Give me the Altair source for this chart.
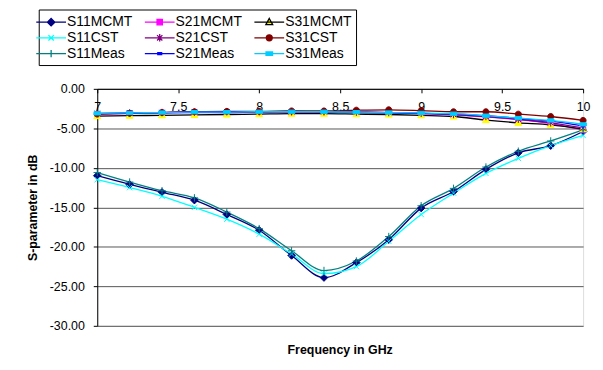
import altair as alt
import pandas as pd

freq = [7.0, 7.2, 7.4, 7.6, 7.8, 8.0, 8.2, 8.4, 8.6, 8.8, 9.0, 9.2, 9.4, 9.6, 9.8, 10.0]

names = ["S11MCMT", "S21MCMT", "S31MCMT",
         "S11CST", "S21CST", "S31CST",
         "S11Meas", "S21Meas", "S31Meas"]

s11_mcmt = [-11.0, -12.1, -13.1, -14.1, -15.9, -17.9, -21.1, -23.9, -22.0, -19.1, -15.1, -13.0, -10.2, -8.1, -7.2, -5.4]
s21_mcmt = [-3.2, -3.1, -3.05, -3.0, -3.0, -2.95, -2.95, -2.95, -3.0, -3.05, -3.15, -3.3, -3.55, -3.9, -4.4, -5.2]
s31_mcmt = [-3.45, -3.4, -3.35, -3.3, -3.25, -3.2, -3.15, -3.15, -3.2, -3.25, -3.35, -3.5, -3.95, -4.3, -4.55, -5.1]
s11_cst = [-11.5, -12.5, -13.6, -15.0, -16.5, -18.4, -20.9, -23.4, -22.5, -19.3, -15.9, -13.2, -10.7, -8.8, -7.2, -5.9]
s21_cst = [-3.1, -3.05, -3.0, -2.95, -2.9, -2.9, -2.9, -2.9, -2.95, -3.0, -3.1, -3.25, -3.5, -3.85, -4.3, -4.95]
s31_cst = [-3.2, -3.1, -3.0, -2.9, -2.85, -2.85, -2.8, -2.8, -2.7, -2.65, -2.75, -2.9, -2.9, -3.2, -3.5, -4.0]
s11_meas = [-10.6, -11.8, -12.9, -13.8, -15.6, -17.7, -20.5, -23.0, -21.8, -18.7, -14.8, -12.6, -9.9, -7.9, -6.6, -5.2]
s21_meas = [-3.15, -3.1, -3.0, -2.95, -2.9, -2.9, -2.85, -2.9, -2.95, -3.0, -3.1, -3.2, -3.4, -3.75, -4.1, -4.7]
s31_meas = [-3.1, -3.05, -3.0, -2.95, -2.95, -2.9, -2.9, -2.9, -2.95, -3.0, -3.05, -3.15, -3.4, -3.7, -4.0, -4.5]

series_values = [s11_mcmt, s21_mcmt, s31_mcmt, s11_cst, s21_cst, s31_cst, s11_meas, s21_meas, s31_meas]

line_colors = ["#000080", "#FF00FF", "#000000", "#00FFFF", "#800080", "#800000", "#008080", "#0000FF", "#00CCFF"]
marker_colors = ["#000080", "#FF00FF", "#FFFF00", "#00FFFF", "#800080", "#800000", "#008080", "#0000FF", "#00CCFF"]

# marker shapes as unit paths; drawn at size 225 -> 7.5 px per unit
marker_paths = [
    "M0,-0.5L0.5,0L0,0.5L-0.5,0Z",
    "M-0.36,-0.36H0.36V0.36H-0.36Z",
    "M0,-0.5L0.46,0.34H-0.46Z",
    "M-0.36,-0.36L0.36,0.36M-0.36,0.36L0.36,-0.36",
    "M-0.36,-0.36L0.36,0.36M-0.36,0.36L0.36,-0.36M0,-0.5V0.5",
    "M-0.4,0A0.4,0.4 0 1,0 0.4,0A0.4,0.4 0 1,0 -0.4,0Z",
    "M-0.5,0H0.5M0,-0.5V0.5",
    "M-0.26,-0.12H0.26V0.12H-0.26Z",
    "M-0.44,-0.22H0.44V0.22H-0.44Z",
]
legend_line = "M-2,0L2,0"
legend_paths = [legend_line + p for p in marker_paths]

# plotted markers use a suffixed key, legend entries use the plain names
ZW = "\u200b"
names_m = [n + ZW for n in names]

rows = []
for i, (name, vals) in enumerate(zip(names, series_values)):
    for f, v in zip(freq, vals):
        rows.append({"freq": f, "db": v, "series": name, "series_m": name + ZW, "k": i})
df = pd.DataFrame(rows)

FONT = "Liberation Sans"
PLOT_W = 490
PLOT_H = 239

x_enc = alt.X(
    "freq:Q",
    scale=alt.Scale(domain=[7, 10], nice=False, zero=False),
    axis=alt.Axis(
        orient="bottom", offset=-PLOT_H, values=[7, 7.5, 8, 8.5, 9, 9.5, 10],
        format="~g", title=None, grid=False, labelFlush=False,
        domainColor="black", tickColor="black", tickSize=4, labelPadding=8,
        labelFont=FONT, labelFontSize=12.5, labelColor="black",
    ),
)
y_enc = alt.Y(
    "db:Q",
    scale=alt.Scale(domain=[-30, 0], nice=False, zero=False),
    axis=alt.Axis(
        values=[-30, -25, -20, -15, -10, -5, 0],
        labelExpr="replace(format(datum.value, '.2f'), '\u2212', '-')",
        grid=True, gridColor="#555555", gridWidth=1,
        domainColor="black", tickColor="black", tickSize=4, labelPadding=9,
        labelFont=FONT, labelFontSize=12.5, labelColor="black",
        title="S-parameter in dB", titleFont=FONT, titleFontSize=12.5,
        titleFontWeight="bold", titleColor="black",
        titleX=-65, titleY=PLOT_H / 2, titleAngle=-90, titleBaseline="middle",
        titleAlign="center",
    ),
)

lines = alt.Chart(df).mark_line(strokeWidth=1.3, interpolate="monotone").encode(
    x=x_enc,
    y=y_enc,
    color=alt.Color("series:N", scale=alt.Scale(domain=names, range=line_colors), legend=None),
    detail="k:N",
)

legend = alt.Legend(
    values=names, orient="none", legendX=-59, legendY=-80, columns=3,
    direction="horizontal", title=None, symbolSize=225, symbolStrokeWidth=1.3,
    labelFont=FONT, labelFontSize=14, labelColor="black", labelOffset=7.5,
    columnPadding=8.5, rowPadding=-2.5, padding=4, labelLimit=0,
    strokeColor="black", fillColor="white",
)

dom = names + names_m
points = alt.Chart(df).mark_point(size=225, filled=True, strokeWidth=1, opacity=1).encode(
    x=x_enc,
    y=y_enc,
    fill=alt.Fill("series_m:N", scale=alt.Scale(domain=dom, range=marker_colors + marker_colors), legend=legend),
    stroke=alt.Stroke("series_m:N", scale=alt.Scale(domain=dom, range=line_colors + marker_colors), legend=legend),
    shape=alt.Shape("series_m:N", scale=alt.Scale(domain=dom, range=legend_paths + marker_paths), legend=legend),
)

chart = alt.layer(lines, points).properties(
    width=PLOT_W,
    height=PLOT_H,
    autosize=alt.AutoSizeParams(type="none"),
    padding={"left": 90, "top": 80, "right": 12, "bottom": 40},
    title=alt.TitleParams(
        "Frequency in GHz", orient="bottom", anchor="middle", frame="group",
        font=FONT, fontSize=12.5, fontWeight="bold", color="black", offset=12,
    ),
).configure_view(stroke="#999999", strokeWidth=1.5).configure(background="white")

chart.save("out.html", embed_options={"renderer": "svg", "actions": False})
